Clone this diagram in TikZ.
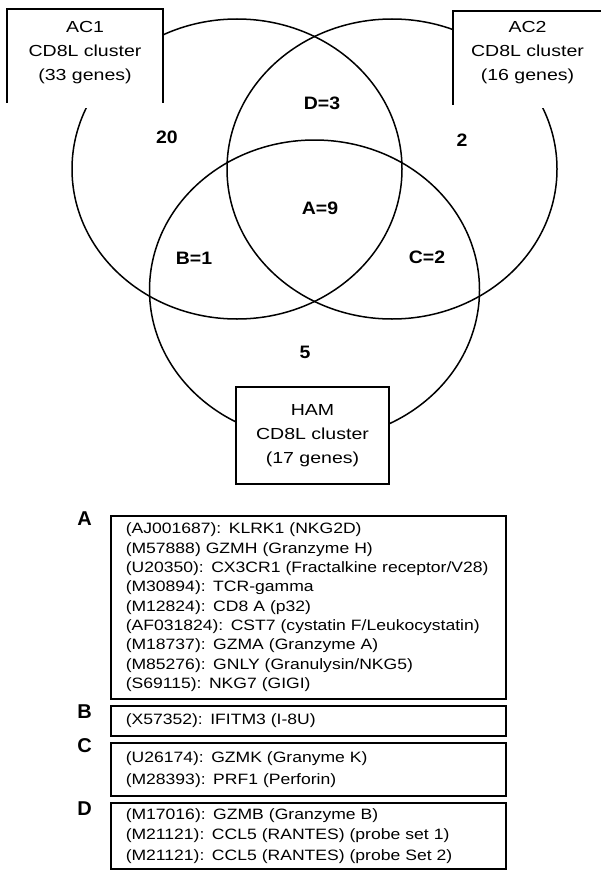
\documentclass[tikz,border=0pt]{standalone}
\usepackage{fontspec}
\setmainfont{Liberation Sans}
\newfontfamily\setfont{Liberation Sans}[FakeStretch=1.22]
\newfontfamily\listfont{Liberation Sans}[FakeStretch=1.17]
\newfontfamily\countfont{Liberation Sans}[FakeStretch=1.08]
\usepackage{tikz}
\usetikzlibrary{positioning}
\tikzstyle{venn} = [line width=1.5pt]
\tikzstyle{frame} = [line width=1.5pt]
\tikzstyle{setlabel} = [align=center, inner sep=0pt, font=\setfont\fontsize{16}{24}\selectfont]
\tikzstyle{count} = [inner sep=0pt, font=\countfont\bfseries\fontsize{18}{20}\selectfont]
\tikzstyle{genelist} = [draw, line width=1.5pt, anchor=north west, minimum width=395pt, text width=365pt, inner xsep=15pt, inner ysep=0pt, align=left]
\tikzstyle{tag} = [inner sep=0pt, anchor=north east, font=\bfseries\fontsize{20}{20}\selectfont]

\begin{document}
\begin{tikzpicture}[x=1pt,y=-1pt]
  \useasboundingbox (0,0) rectangle (601,872);

  % the three clusters
  \draw[venn] (237,169) ellipse [x radius=165, y radius=150];
  \draw[venn] (392,169) ellipse [x radius=165, y radius=150];
  \draw[venn] (314.5,290) ellipse [x radius=165, y radius=150];

  % cluster labels
  \fill[white] (7,9) rectangle (163,108);
  \draw[frame] (7,103) |- (163,9) -- (163,103);
  \node[setlabel] (ac1) at (85,53) {AC1\\CD8L cluster\\(33 genes)};

  \fill[white] (453,11) rectangle (601,108);
  \draw[frame] (453,105) |- (601,11);
  \node[setlabel] (ac2) at (527.5,53) {AC2\\CD8L cluster\\(16 genes)};

  \node[setlabel, draw, frame, fill=white, minimum width=153pt, minimum height=97pt] (ham) at (312.5,435.5) {HAM\\CD8L cluster\\(17 genes)};

  % gene counts
  \node[count] (only1) at (167,137) {20};
  \node[count] (only2) at (462,140) {2};
  \node[count] (only3) at (305,352) {5};
  \node[count] (regA) at (320,208) {A=9};
  \node[count] (regB) at (194,258) {B=1};
  \node[count] (regC) at (427,257) {C=2};
  \node[count] (regD) at (322,103) {D=3};

  % gene lists
  \node[genelist, minimum height=183pt, font=\listfont\fontsize{15}{19.3}\selectfont] (listA) at (110,515) {(AJ001687): KLRK1 (NKG2D)\\
    (M57888) GZMH (Granzyme H)\\
    (U20350): CX3CR1 (Fractalkine receptor/V28)\\
    (M30894): TCR-gamma\\
    (M12824): CD8 A (p32)\\
    (AF031824): CST7 (cystatin F/Leukocystatin)\\
    (M18737): GZMA (Granzyme A)\\
    (M85276): GNLY (Granulysin/NKG5)\\
    (S69115): NKG7 (GIGI)};
  \node[genelist, minimum height=30pt, font=\listfont\fontsize{15}{19.3}\selectfont] (listB) at (110,705) {(X57352): IFITM3 (I-8U)};
  \node[genelist, minimum height=53pt, font=\listfont\fontsize{15}{22}\selectfont] (listC) at (110,742) {(U26174): GZMK (Granyme K)\\
    (M28393): PRF1 (Perforin)};
  \node[genelist, minimum height=66pt, font=\listfont\fontsize{15}{20.5}\selectfont] (listD) at (110,802) {(M17016): GZMB (Granzyme B)\\
    (M21121): CCL5 (RANTES) (probe set 1)\\
    (M21121): CCL5 (RANTES) (probe Set 2)};

  \node[tag, left=18pt of listA.north west, anchor=north east, yshift=3pt] (tagA) {A};
  \node[tag, left=18pt of listB.north west, anchor=north east] (tagB) {B};
  \node[tag, left=18pt of listC.north west, anchor=north east, yshift=4pt] (tagC) {C};
  \node[tag, left=18pt of listD.north west, anchor=north east] (tagD) {D};

\end{tikzpicture}
\end{document}
